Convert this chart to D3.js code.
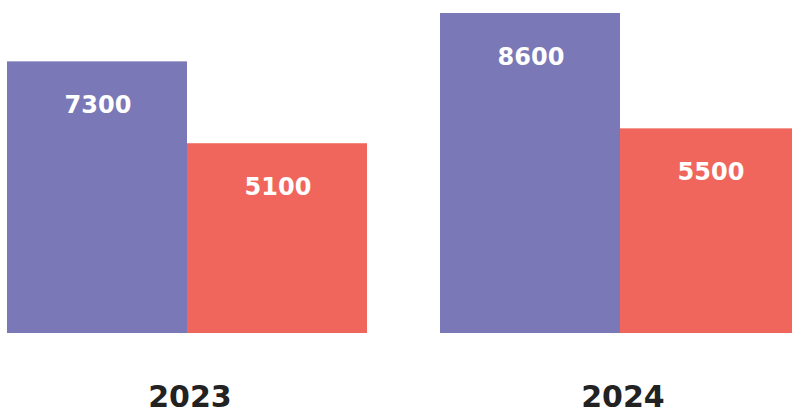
<!DOCTYPE html>
<html>
<head>
<meta charset="utf-8">
<script src="https://cdn.jsdelivr.net/npm/d3@7"></script>
<style>
  body { margin: 0; background: #fff; overflow: hidden; }
  text { font-family: "DejaVu Sans", sans-serif; font-weight: bold; }
</style>
</head>
<body>
<script>
// chart data
var years = ["2023", "2024"];
var series = ["a", "b"];
var valuesA = [7300, 8600];
var valuesB = [5100, 5500];

var colors = ["#7a78b7", "#f1665c"];

var w = 792;
var h = 413;
var baseline = 333;

var svg = d3.select("body")
            .append("svg")
            .attr("width", w)
            .attr("height", h);

// group scale, second group runs past the right edge
var x0 = d3.scaleBand()
           .domain(years)
           .range([7, 800])
           .paddingInner(73 / 433);

var x1 = d3.scaleBand()
           .domain(series)
           .range([0, x0.bandwidth()]);

var y = d3.scaleLinear()
          .domain([0, 8600])
          .range([baseline, 13]);

var data = years.map(function(yr, i) {
	return {year: yr, vals: [valuesA[i], valuesB[i]]};
});

var groups = svg.selectAll(".group")
                .data(data)
                .enter()
                .append("g")
                .attr("class", "group")
                .attr("transform", function(d) { return "translate(" + x0(d.year) + ",0)"; });

var bars = groups.selectAll("rect")
                 .data(function(d) { return d.vals.map(function(v, j) { return {s: series[j], v: v, j: j}; }); })
                 .enter();

bars.append("rect")
    .attr("x", function(d) { return x1(d.s); })
    .attr("y", function(d) { return y(d.v); })
    .attr("width", x1.bandwidth())
    .attr("height", function(d) { return baseline - y(d.v); })
    .attr("fill", function(d) { return colors[d.j]; });

// value labels inside bars
bars.append("text")
    .attr("x", function(d) { return x1(d.s) + x1.bandwidth() / 2 + 1; })
    .attr("y", function(d) { return y(d.v) + 52; })
    .attr("text-anchor", "middle")
    .attr("fill", "#fff")
    .style("font-size", "24px")
    .text(function(d) { return d.v; });

// year labels
groups.append("text")
      .attr("x", x0.bandwidth() / 2 + 3)
      .attr("y", 407)
      .attr("text-anchor", "middle")
      .attr("fill", "#222")
      .style("font-size", "30px")
      .text(function(d) { return d.year; });
</script>
</body>
</html>
